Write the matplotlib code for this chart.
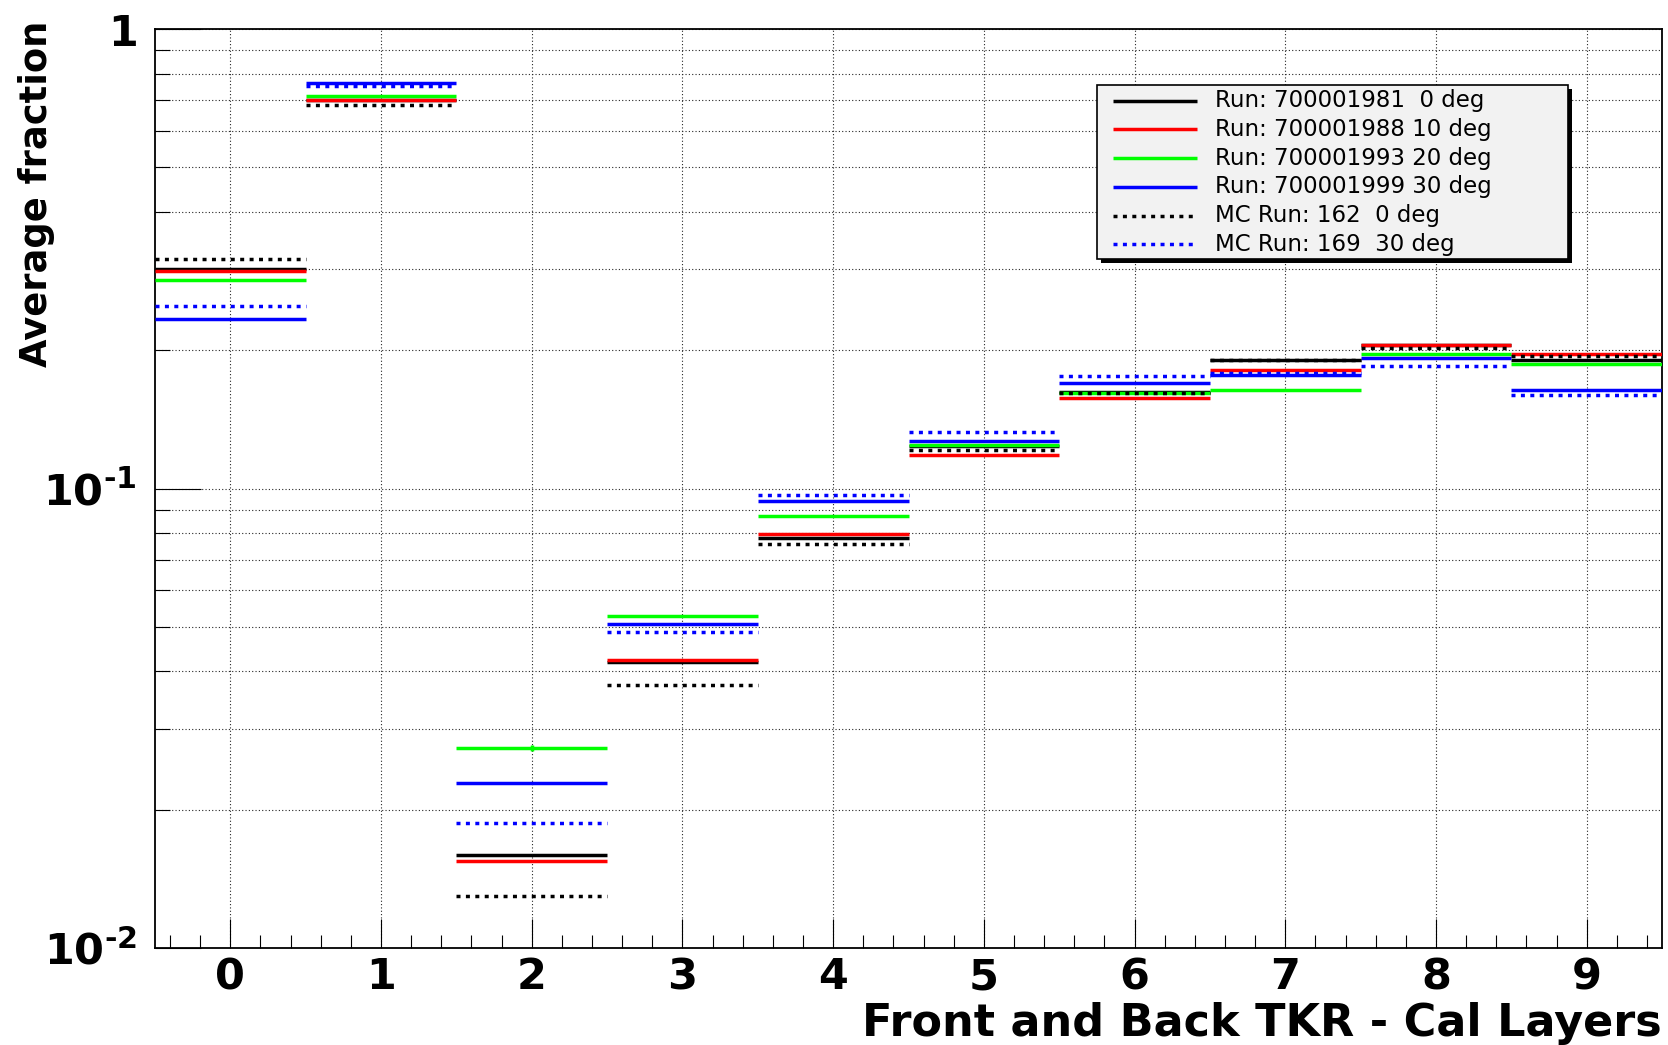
import numpy as np
import matplotlib
matplotlib.use('Agg')
import matplotlib.pyplot as plt
from matplotlib.ticker import LogLocator, NullFormatter, MultipleLocator
from matplotlib.patches import Rectangle
from matplotlib.lines import Line2D

plt.rcParams['font.family'] = ['DejaVu Sans']
plt.rcParams['mathtext.fontset'] = 'custom'
plt.rcParams['mathtext.rm'] = 'DejaVu Sans:bold'
plt.rcParams['mathtext.bf'] = 'DejaVu Sans:bold'

# Data (average fraction per layer bin)
layers = np.arange(10)
layer_labels = [str(i) for i in layers]

run_1981 = [0.300, 0.701, 0.0159, 0.0419, 0.0780, 0.1236, 0.1620, 0.1907, 0.2056, 0.1907]
run_1988 = [0.298, 0.701, 0.0155, 0.0424, 0.0796, 0.1180, 0.1577, 0.1814, 0.2056, 0.1963]
run_1993 = [0.284, 0.715, 0.0272, 0.0527, 0.0871, 0.1246, 0.1617, 0.1641, 0.1958, 0.1863]
run_1999 = [0.234, 0.763, 0.0229, 0.0506, 0.0937, 0.1267, 0.1694, 0.1767, 0.1923, 0.1641]
mc_162 = [0.3156, 0.685, 0.0130, 0.0374, 0.0756, 0.1210, 0.1617, 0.1900, 0.2022, 0.1946]
mc_169 = [0.250, 0.753, 0.0187, 0.0486, 0.0969, 0.1325, 0.1755, 0.1787, 0.1851, 0.1598]
run_1993_err = [0, 0, 0.0004, 0, 0, 0, 0, 0, 0, 0]

labels = ['Run: 700001981  0 deg', 'Run: 700001988 10 deg',
          'Run: 700001993 20 deg', 'Run: 700001999 30 deg',
          'MC Run: 162  0 deg', 'MC Run: 169  30 deg']

DOTTED = (0, (1.15, 1.56))
series = [
    (run_1981, 'black', 'solid'),
    (run_1988, 'red', 'solid'),
    (run_1993, '#00ff00', 'solid'),
    (run_1999, 'blue', 'solid'),
    (mc_162, 'black', DOTTED),
    (mc_169, 'blue', DOTTED),
]

fig = plt.figure(figsize=(16.68, 10.45), dpi=100)
ax = fig.add_axes([155 / 1668, 97 / 1045, 1507 / 1668, 919 / 1045])
ax.set_yscale('log')
ax.set_xlim(-0.5, 9.5)
ax.set_ylim(0.01, 1)

# Histograms drawn as horizontal bin-wide bars (ROOT "E" style)
for (vals, color, ls), label in zip(series, labels):
    ax.hlines(vals, layers - 0.5, layers + 0.5, colors=color, linewidth=2.5,
              linestyles=ls, label=label, capstyle='butt', zorder=3)
err = np.array(run_1993_err)
mask = err > 0
ax.vlines(layers[mask], np.array(run_1993)[mask] - err[mask],
          np.array(run_1993)[mask] + err[mask], colors='#00ff00', linewidth=2.5, zorder=3)

# Grid
grid_kw = dict(linestyle=(0, (1, 2)), color='0.15', linewidth=0.8)
ax.grid(True, which='major', axis='x', **grid_kw)
ax.grid(True, which='both', axis='y', **grid_kw)
ax.set_axisbelow(True)

# Ticks
ax.set_xticks(layers, labels=layer_labels)
ax.xaxis.set_minor_locator(MultipleLocator(0.2))
ax.tick_params(axis='x', which='major', direction='in', length=21, width=0.8,
               pad=6, labelsize=31)
ax.tick_params(axis='x', which='minor', direction='in', length=9.5, width=0.8)
for t in ax.get_xticklabels():
    t.set_fontweight('bold')

ax.set_yticks([0.01, 0.1, 1],
              labels=[r'$\mathbf{10^{\text{-}2}}$', r'$\mathbf{10^{\text{-}1}}$',
                      r'$\mathbf{1}$'])
ax.yaxis.set_minor_locator(LogLocator(base=10, subs=np.arange(2, 10)))
ax.yaxis.set_minor_formatter(NullFormatter())
ax.tick_params(axis='y', which='major', direction='in', length=33, width=0.8,
               pad=13, labelsize=31)
ax.tick_params(axis='y', which='minor', direction='in', length=11, width=0.8)

for sp in ax.spines.values():
    sp.set_linewidth(1.3)

# Axis titles
ax.set_ylabel('Average fraction', loc='top', fontsize=26.5, fontweight='bold')
ax.yaxis.set_label_coords(-0.0664, 1.0087)
ax.set_xlabel('Front and Back TKR - Cal Layers', loc='right', fontsize=32,
              fontweight='bold')
ax.xaxis.set_label_coords(1.0, -0.0588)

# Legend box (ROOT TLegend look, with shadow)
def ax_y(py):
    return (948 - py) / 919

x0, x1 = (1097 - 155) / 1507, (1568 - 155) / 1507
y0, y1 = ax_y(259), ax_y(85)
ax.add_patch(Rectangle((x0 + 4 / 1507, y0 - 4 / 919), x1 - x0, y1 - y0,
                       transform=ax.transAxes, facecolor='black', edgecolor='none',
                       zorder=5, clip_on=False))
ax.add_patch(Rectangle((x0, y0), x1 - x0, y1 - y0, transform=ax.transAxes,
                       facecolor='#f2f2f2', edgecolor='black', linewidth=1.2,
                       zorder=5.1, clip_on=False))
hx0, hx1 = (1113 - 155) / 1507, (1197 - 155) / 1507
tx = (1215 - 155) / 1507
for i, ((vals, color, ls), label) in enumerate(zip(series, labels)):
    y = ax_y(100.7 + i * 28.7)
    ax.add_line(Line2D([hx0, hx1], [y, y], transform=ax.transAxes, color=color,
                       linewidth=2.5, linestyle=ls, solid_capstyle='butt',
                       zorder=6, clip_on=False))
    ax.text(tx, y, label, transform=ax.transAxes, fontsize=16.5, va='center',
            ha='left', zorder=6)

fig.savefig('out.png', dpi=100, facecolor='white')
